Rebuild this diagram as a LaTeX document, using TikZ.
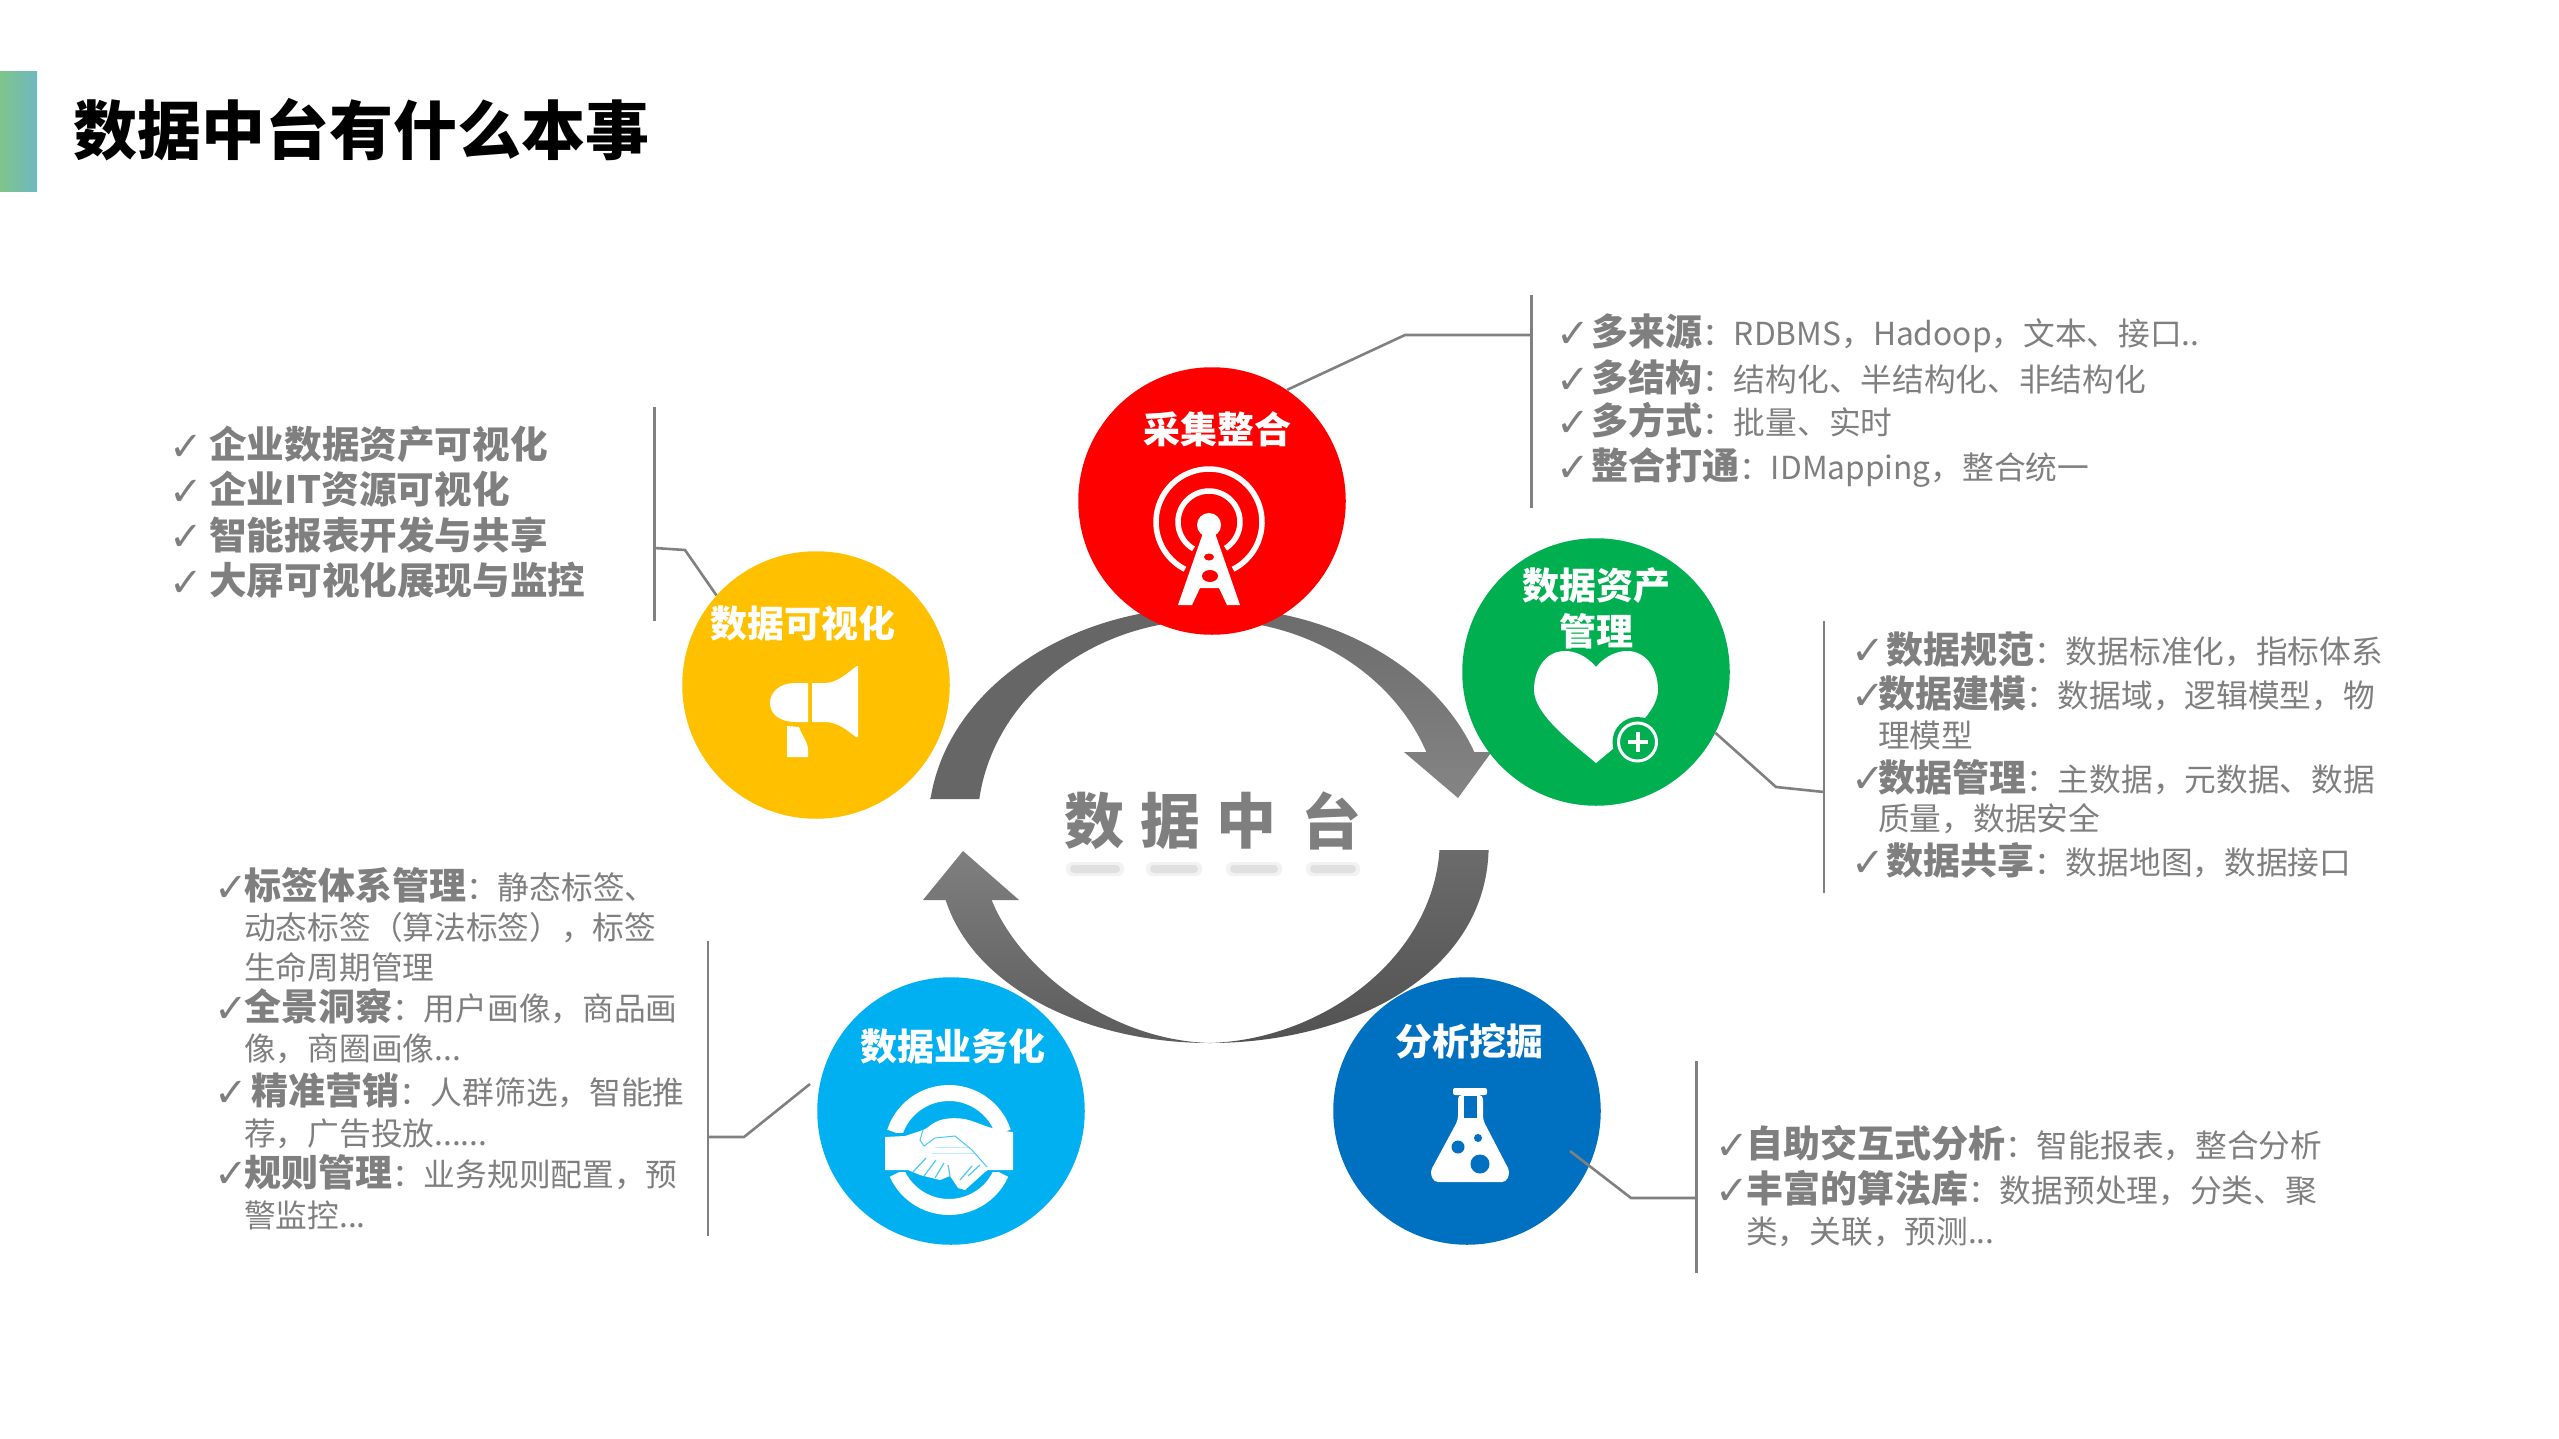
\documentclass[tikz,border=0pt]{standalone}
\usepackage{fontspec}
\setmainfont{Noto Sans CJK SC}
\newfontfamily\chkfont{DejaVu Sans}
\definecolor{txtgray}{HTML}{7F7F7F}
\definecolor{linegray}{HTML}{808080}
\definecolor{cred}{HTML}{FF0000}
\definecolor{cgreen}{HTML}{00B050}
\definecolor{cyellow}{HTML}{FFC000}
\definecolor{clight}{HTML}{00B0F0}
\definecolor{cdark}{HTML}{0070C0}
\definecolor{tbarl}{HTML}{7FC58A}
\definecolor{tbarr}{HTML}{6FB7C0}
\newcommand\kb[1]{{\fontsize{37}{37}\selectfont\bfseries #1}}
\tikzset{
  x=1pt,y=1pt,
  disc/.style={circle,minimum size=267.5pt,inner sep=0pt,draw=none},
  ln/.style={anchor=base west,inner sep=0pt,text=txtgray,font=\fontsize{31.7}{32}\selectfont},
  lb/.style={anchor=base west,inner sep=0pt,text=txtgray,font=\fontsize{37.6}{38}\selectfont\bfseries},
  chk/.style={anchor=base west,inner sep=0pt,text=txtgray,font=\fontsize{40}{40}\selectfont\chkfont},
  disccap/.style={anchor=center,inner sep=0pt,text=white,font=\fontsize{37}{37}\selectfont\bfseries},
  core/.style={anchor=center,inner sep=0pt,text=txtgray,font=\fontsize{60}{60}\selectfont\bfseries},
  bar/.style={draw=linegray,line width=2.2pt},
  lead/.style={draw=linegray,line width=2.6pt,line join=round},
  smear/.style={fill=black!12,rounded corners=4pt},
  smearb/.style={fill=black!5,rounded corners=6pt}
}
\begin{document}
\begin{tikzpicture}
\useasboundingbox (0,0) rectangle (2559,-1439);
\fill[white] (0,0) rectangle (2559,-1439);
% title
\shade[left color=tbarl,right color=tbarr] (0,-72) rectangle (37,-192);
\node[anchor=center,inner sep=0pt,font=\fontsize{64}{64}\selectfont\bfseries] (title) at (361,-130) {数据中台有什么本事};

% light blue disc sits under the ring
\node[disc,fill=clight] (light) at (951,-1111) {};

% ring of four crescent arrows
\shade[top color=black!60,bottom color=black!60] (1209.5,-607) arc[x radius=281,y radius=218,start angle=90,end angle=173.15] -- (979.3,-799) arc[x radius=232,y radius=205,start angle=172.7,end angle=90] -- cycle;
\shade[top color=black!58,bottom color=black!48] (1209.5,-607) arc[x radius=281,y radius=218,start angle=90,end angle=19.56] -- (1491.5,-752) -- (1458,-798) -- (1404,-752) -- (1426.3,-752) arc[x radius=232,y radius=205,start angle=20.86,end angle=90] -- cycle;
\shade[top color=black!58,bottom color=black!68] (1488.6,-850) .. controls (1485,-975) and (1350,-1043) .. (1209.5,-1043) .. controls (1320,-1040) and (1432,-960) .. (1439.5,-850) -- cycle;
\shade[top color=black!50,bottom color=black!64] (1209.5,-1043) .. controls (1090,-1043) and (975,-990) .. (945.6,-900) -- (923,-900) -- (963,-851) -- (1019,-900) -- (991.6,-900) .. controls (1020,-970) and (1110,-1040) .. (1209.5,-1043) -- cycle;

% discs
\node[disc,fill=cred] (red) at (1212,-501) {};
\node[disc,fill=cgreen] (green) at (1596,-672) {};
\node[disc,fill=cyellow] (yellow) at (816,-685) {};
\node[disc,fill=cdark] (dark) at (1467,-1111) {};

% disc captions
\node[disccap] (redcap) at (1217,-429) {采集整合};
\node[disccap] (greencap1) at (1596,-586) {数据资产};
\node[disccap] (greencap2) at (1596,-631) {管理};
\node[disccap] (yellowcap) at (803,-623) {数据可视化};
\node[disccap] (lightcap) at (953,-1046) {数据业务化};
\node[disccap] (darkcap) at (1469,-1041) {分析挖掘};

% centre
\node[core] (c1) at (1094,-821) {数};
\node[core] (c2) at (1170,-821) {据};
\node[core] (c3) at (1246,-821) {中};
\node[core] (c4) at (1331,-821) {台};
\foreach \a/\b in {1066/1124,1146/1202,1226/1282,1306/1360}{
  \fill[smearb] (\a,-862) rectangle (\b,-876);
  \fill[smear] (\a+4,-865) rectangle (\b-4,-873);
}

% tower icon
\draw[white,line width=5.5pt] (1209,-522) ++(-63:53) arc[radius=53,start angle=-63,end angle=243];
\draw[white,line width=5.5pt] (1209,-522) ++(-58:31) arc[radius=31,start angle=-58,end angle=240];
\fill[white] (1209,-525) circle[radius=12];
\fill[white] (1203,-533) -- (1215,-533) -- (1240,-605) -- (1227,-605) -- (1219,-588) -- (1200,-588) -- (1192,-605) -- (1178,-605) -- cycle;
\fill[cred] (1209,-557) ellipse[x radius=5,y radius=3.5];
\fill[cred] (1210,-576) ellipse[x radius=8,y radius=6];

% heart icon
\fill[white] (1596,-667) .. controls (1586,-655) and (1574,-651) .. (1565,-651) .. controls (1545,-651) and (1534,-670) .. (1534,-690) .. controls (1534,-715) and (1575,-745) .. (1596,-763) .. controls (1617,-745) and (1658,-715) .. (1658,-690) .. controls (1658,-670) and (1647,-651) .. (1627,-651) .. controls (1618,-651) and (1606,-655) .. (1596,-667) -- cycle;
\fill[cgreen] (1637.5,-742) circle[radius=25];
\draw[white,line width=3pt] (1637.5,-742) circle[radius=19];
\draw[white,line width=4pt] (1627.5,-742) -- (1647.5,-742) (1637.5,-732) -- (1637.5,-752);

% megaphone icon
\fill[white] (808,-683) -- (795,-683) .. controls (780,-683) and (770,-692) .. (770,-703) .. controls (770,-714) and (780,-722) .. (795,-722) -- (808,-722) -- cycle;
\fill[white] (812,-683) -- (825,-683) .. controls (838,-683) and (848,-672) .. (857,-666) -- (858,-666) -- (858,-737) -- (856,-737) .. controls (848,-731) and (838,-722) .. (825,-722) -- (812,-722) -- cycle;
\fill[white] (787,-726) -- (799,-727) .. controls (802,-736) and (808,-742) .. (808,-750) -- (808,-757) -- (787,-757) -- cycle;

% handshake icon
\draw[white,line width=16pt] (949,-1150) ++(18:57) arc[radius=57,start angle=18,end angle=162];
\draw[white,line width=16pt] (949,-1150) ++(204:57) arc[radius=57,start angle=204,end angle=336];
\fill[clight] (885,-1133) rectangle (1013,-1172);
\fill[white] (885,-1137) -- (905,-1136) -- (923,-1130) -- (927,-1128) .. controls (938,-1118) and (950,-1117) .. (965,-1119) .. controls (978,-1122) and (990,-1130) .. (1013,-1132) -- (1013,-1170) -- (988,-1170) -- (985,-1172) -- (965,-1190) -- (958,-1188) -- (950,-1176) -- (940,-1180) -- (920,-1175) -- (908,-1170) -- (885,-1170) -- cycle;
\draw[clight!70,line width=1pt] (923,-1130) -- (920,-1140) -- (924,-1146) -- (935,-1138) -- (955,-1136) -- (972,-1150) -- (987,-1167);
\draw[clight!25,line width=1pt] (935,-1147) -- (968,-1147) (932,-1153) -- (974,-1153);
\draw[clight!70,line width=1.2pt] (913,-1172) -- (926,-1158) (924,-1176) -- (936,-1160) (935,-1178) -- (944,-1163) (950,-1176) -- (948,-1165) (960,-1180) -- (972,-1166) (968,-1176) -- (980,-1165);

% flask icon
\fill[white,rounded corners=2pt] (1453,-1088) rectangle (1487,-1095);
\fill[white,rounded corners=4pt] (1458,-1095) -- (1483,-1095) -- (1483,-1120) -- (1510,-1172) -- (1506,-1182) -- (1434,-1182) -- (1430,-1172) -- (1458,-1120) -- cycle;
\fill[cdark] (1464,-1096) rectangle (1477,-1118);
\fill[cdark] (1458,-1147) circle[radius=6.5];
\fill[cdark] (1478,-1138) circle[radius=4];
\fill[cdark] (1480,-1164) circle[radius=9.5];

% bars and leaders
\coordinate (b1t) at (1531.5,-295); \coordinate (b1b) at (1531.5,-508); \coordinate (b1m) at (1531.5,-335); \coordinate (k1) at (1405,-335);
\draw[bar] (b1t) -- (b1b);
\draw[lead] (red.56) -- (k1) -- (b1m);
\coordinate (b2t) at (654.5,-407); \coordinate (b2b) at (654.5,-621); \coordinate (b2m) at (654.5,-548); \coordinate (k2) at (685,-550);
\draw[bar] (b2t) -- (b2b);
\draw[lead] (yellow.138) -- (k2) -- (b2m);
\coordinate (b3t) at (1824,-621); \coordinate (b3b) at (1824,-893); \coordinate (b3m) at (1824,-792); \coordinate (k3) at (1776,-787);
\draw[bar] (b3t) -- (b3b);
\draw[lead] (green.-27) -- (k3) -- (b3m);
\coordinate (b4t) at (1696.5,-1061); \coordinate (b4b) at (1696.5,-1273); \coordinate (b4m) at (1696.5,-1198); \coordinate (k4) at (1631,-1198); \coordinate (freedark) at (1570,-1151);
\draw[bar] (b4t) -- (b4b);
\draw[lead] (freedark) -- (k4) -- (b4m);
\coordinate (b5t) at (708,-941); \coordinate (b5b) at (708,-1236); \coordinate (b5m) at (708,-1137); \coordinate (k5) at (744,-1137); \coordinate (freelight) at (810,-1084);
\draw[bar] (b5t) -- (b5b);
\draw[lead] (freelight) -- (k5) -- (b5m);

% top right list
\node[chk] (a1c) at (1556,-347) {✓};
\node[ln] (a1) at (1591,-345) {\kb{多来源}：RDBMS，Hadoop，文本、接口..};
\node[chk] (a2c) at (1556,-393) {✓};
\node[ln] (a2) at (1591,-391) {\kb{多结构}：结构化、半结构化、非结构化};
\node[chk] (a3c) at (1556,-436) {✓};
\node[ln] (a3) at (1591,-434) {\kb{多方式}：批量、实时};
\node[chk] (a4c) at (1556,-481) {✓};
\node[ln] (a4) at (1591,-479) {\kb{整合打通}：IDMapping，整合统一};

% top left list
\node[chk] (b1c) at (169,-460) {✓};
\node[lb] (b1) at (209,-458) {企业数据资产可视化};
\node[chk] (b2c) at (169,-505) {✓};
\node[lb] (b2) at (209,-503) {企业IT资源可视化};
\node[chk] (b3c) at (169,-550) {✓};
\node[lb] (b3) at (209,-549) {智能报表开发与共享};
\node[chk] (b4c) at (169,-596) {✓};
\node[lb] (b4) at (209,-594) {大屏可视化展现与监控};

% right list
\node[chk] (d1c) at (1851,-664) {✓};
\node[ln] (d1) at (1886,-663) {\kb{数据规范}：数据标准化，指标体系};
\node[chk] (d2c) at (1851,-709) {✓};
\node[ln] (d2) at (1878,-707) {\kb{数据建模}：数据域，逻辑模型，物};
\node[ln] (d3) at (1878,-747) {理模型};
\node[chk] (d4c) at (1851,-792) {✓};
\node[ln] (d4) at (1878,-791) {\kb{数据管理}：主数据，元数据、数据};
\node[ln] (d5) at (1878,-830) {质量，数据安全};
\node[chk] (d6c) at (1851,-876) {✓};
\node[ln] (d6) at (1886,-874) {\kb{数据共享}：数据地图，数据接口};

% lower left list
\node[chk] (e1c) at (214,-901) {✓};
\node[ln] (e1) at (244,-899) {\kb{标签体系管理}：静态标签、};
\node[ln] (e2) at (244,-939) {动态标签（算法标签），标签};
\node[ln] (e3) at (244,-979) {生命周期管理};
\node[chk] (e4c) at (214,-1022) {✓};
\node[ln] (e4) at (244,-1020) {\kb{全景洞察}：用户画像，商品画};
\node[ln] (e5) at (244,-1060) {像，商圈画像...};
\node[chk] (e6c) at (214,-1106) {✓};
\node[ln] (e6) at (251,-1104) {\kb{精准营销}：人群筛选，智能推};
\node[ln] (e7) at (244,-1145) {荐，广告投放......};
\node[chk] (e8c) at (214,-1187) {✓};
\node[ln] (e8) at (244,-1186) {\kb{规则管理}：业务规则配置，预};
\node[ln] (e9) at (244,-1227) {警监控...};

% lower right list
\node[chk] (f1c) at (1715,-1159) {✓};
\node[ln] (f1) at (1746,-1157) {\kb{自助交互式分析}：智能报表，整合分析};
\node[chk] (f2c) at (1715,-1204) {✓};
\node[ln] (f2) at (1746,-1202) {\kb{丰富的算法库}：数据预处理，分类、聚};
\node[ln] (f3) at (1746,-1243) {类，关联，预测...};
\end{tikzpicture}
\end{document}
